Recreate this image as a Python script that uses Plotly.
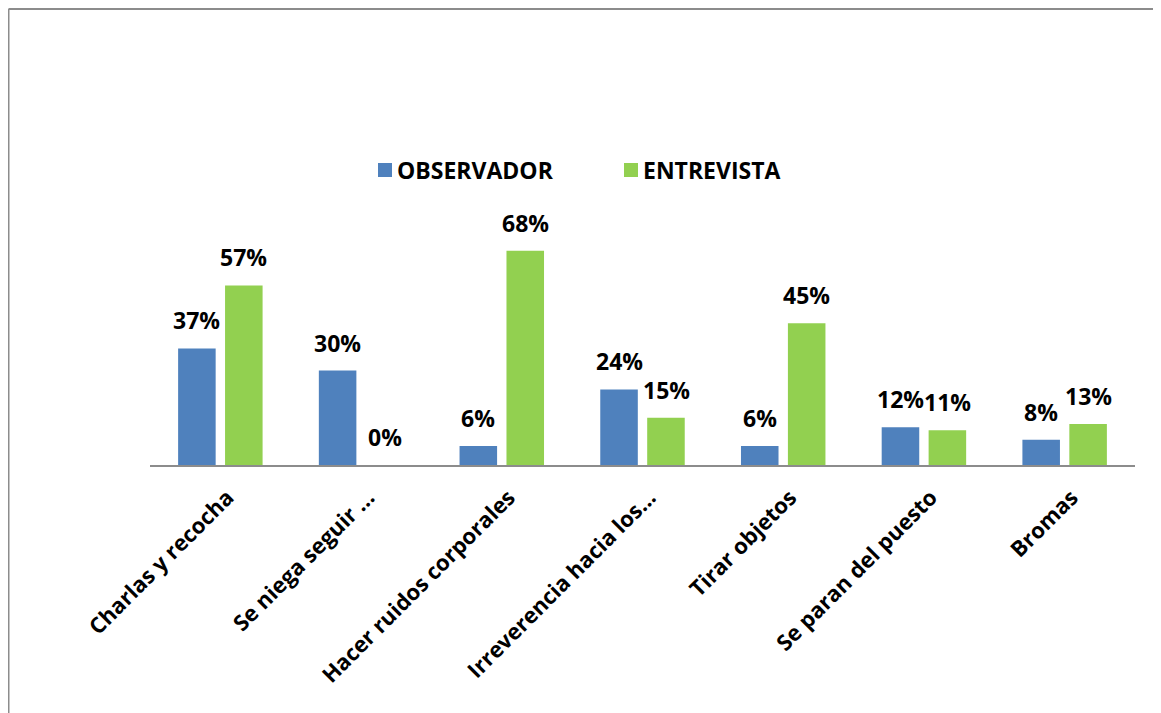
import plotly.graph_objects as go

categorias = [
    "Charlas y recocha",
    "Se niega seguir ...",
    "Hacer ruidos corporales",
    "Irreverencia hacia los...",
    "Tirar objetos",
    "Se paran del puesto",
    "Bromas",
]
observador = [37, 30, 6, 24, 6, 12, 8]
entrevista = [57, 0, 68, 15, 45, 11, 13]

_BLUE = "#4F81BD"
_GREEN = "#92D050"
_GRAY = "#8c8c8c"
_FONT = "Open Sans"

# la pagina tiene 8px de margen en el body
_OFF = 8
_L, _T, _W, _H = 150, 213, 985, 252   # area de trazado en pixeles de pagina


def px_x(x):
    return (x - _L) / _W


def px_y(y):
    return (_T + _H - y) / _H


fig = go.Figure()
for nombre, valores, color in [
    ("OBSERVADOR", observador, _BLUE),
    ("ENTREVISTA", entrevista, _GREEN),
]:
    fig.add_trace(go.Bar(
        name=nombre,
        x=categorias,
        y=valores,
        marker={"color": color, "line": {"width": 0}},
        showlegend=False,
    ))

# etiquetas de datos (separadas de la barra como en Excel)
for valores, dx in [(observador, -23.5), (entrevista, 23.5)]:
    for cat, v in zip(categorias, valores):
        fig.add_annotation(x=cat, y=v, text=f"<b>{v}%</b>", showarrow=False,
                           xshift=dx, yshift=10, yanchor="bottom",
                           font={"size": 23, "family": _FONT, "color": "#000000"})

fig.update_layout(
    width=1161 - _OFF,
    height=713 - _OFF,
    paper_bgcolor="white",
    plot_bgcolor="white",
    font={"family": _FONT, "color": "#000000"},
    margin={"l": _L - _OFF, "r": 26, "t": _T - _OFF, "b": 713 - _T - _H},
    barmode="group",
    bargap=0.333,
    bargroupgap=0.2,
    xaxis={
        "showline": True,
        "linecolor": _GRAY,
        "linewidth": 2,
        "ticks": "",
        "tickangle": -45,
        "tickfont": {"size": 22, "family": _FONT},
        "tickvals": categorias,
        "ticktext": [f"<b>{c}</b>" for c in categorias],
        "ticklabelstandoff": 9,
        "ticklabelshift": 7,
        "showgrid": False,
    },
    yaxis={"range": [0, 80], "visible": False, "showgrid": False},
)

# marco del grafico
fig.add_shape(type="line", xref="paper", yref="paper",
              x0=px_x(_OFF + 0.5), x1=px_x(1170), y0=px_y(9), y1=px_y(9),
              line={"color": _GRAY, "width": 2})
fig.add_shape(type="line", xref="paper", yref="paper",
              x0=px_x(_OFF + 0.5), x1=px_x(_OFF + 0.5), y0=px_y(9), y1=px_y(720),
              line={"color": _GRAY, "width": 2})

# leyenda
for nombre, color, x_sq in [("OBSERVADOR", _BLUE, 378), ("ENTREVISTA", _GREEN, 624)]:
    fig.add_shape(type="rect", xref="paper", yref="paper",
                  x0=px_x(x_sq), x1=px_x(x_sq + 14), y0=px_y(177), y1=px_y(163),
                  fillcolor=color, line={"width": 0})
    fig.add_annotation(xref="paper", yref="paper", x=px_x(x_sq + 17), y=px_y(170),
                       text=f"<b>{nombre}</b>", showarrow=False,
                       xanchor="left", yanchor="middle",
                       font={"size": 23, "family": _FONT, "color": "#000000"})

fig.write_html("out.html")
